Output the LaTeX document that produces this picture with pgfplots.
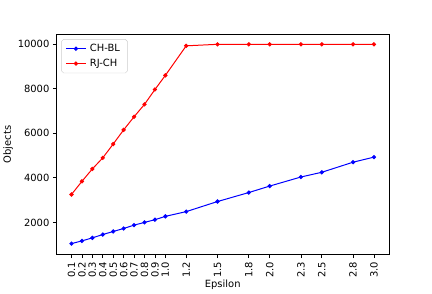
\documentclass[border=0pt]{standalone}
\usepackage{pgfplots}
\pgfplotsset{compat=1.18}
\usepackage{fontspec}
\setmainfont{DejaVu Sans}
\begin{document}
\begin{tikzpicture}[x=1pt,y=1pt]
\begin{axis}[
  scale only axis,
  width=334.8pt, height=221.8pt,
  at={(0,0)}, anchor=south west,
  xmin=-0.045, xmax=3.145,
  ymin=550, ymax=10450,
  scaled y ticks=false,
  axis line style={line width=0.8pt},
  every tick/.style={black, line width=0.8pt},
  tick align=outside,
  major tick length=3.5pt,
  xtick pos=bottom, ytick pos=left,
  xtick={0.1,0.2,0.3,0.4,0.5,0.6,0.7,0.8,0.9,1.0,1.2,1.5,1.8,2.0,2.3,2.5,2.8,3.0},
  xticklabels={0.1,0.2,0.3,0.4,0.5,0.6,0.7,0.8,0.9,1.0,1.2,1.5,1.8,2.0,2.3,2.5,2.8,3.0},
  x tick label style={rotate=90, anchor=east, font=\fontsize{10}{12}\selectfont},
  ytick={2000,4000,6000,8000,10000},
  yticklabels={2000,4000,6000,8000,10000},
  y tick label style={font=\fontsize{10}{12}\selectfont},
  xlabel={Epsilon}, ylabel={Objects},
  label style={font=\fontsize{10}{12}\selectfont},
  xlabel style={yshift=4pt},
  ylabel style={yshift=-2pt},
  legend style={at={(0.015,0.978)}, anchor=north west, draw=black!20, rounded corners=2pt,
    font=\fontsize{10}{12}\selectfont, row sep=2pt, inner xsep=4pt, inner ysep=3pt,
    nodes={inner xsep=3.5pt, inner ysep=2pt, font=\fontsize{10}{12}\selectfont}},
  legend cell align=left,
  legend image code/.code={\draw[mark repeat=2,mark phase=2] plot coordinates {(0pt,0pt)(10pt,0pt)(20pt,0pt)};},
]
\addplot[blue, line width=1pt, mark=*, mark size=1.6pt] coordinates {
(0.1,1048)(0.2,1170)(0.3,1306)(0.4,1456)(0.5,1592)(0.6,1728)(0.7,1878)(0.8,2000)(0.9,2122)(1.0,2272)
(1.2,2485)(1.5,2938)(1.8,3341)(2.0,3632)(2.3,4040)(2.5,4252)(2.8,4705)(3.0,4932)};
\addlegendentry{CH-BL}
\addplot[red, line width=1pt, mark=*, mark size=1.6pt] coordinates {
(0.1,3255)(0.2,3844)(0.3,4402)(0.4,4900)(0.5,5521)(0.6,6156)(0.7,6745)(0.8,7303)(0.9,7969)(1.0,8604)
(1.2,9932)(1.5,10000)(1.8,10000)(2.0,10000)(2.3,10000)(2.5,10000)(2.8,10000)(3.0,10000)};
\addlegendentry{RJ-CH}
\end{axis}
\useasboundingbox (-54,-31.7) rectangle (378,256.3);
\end{tikzpicture}
\end{document}
